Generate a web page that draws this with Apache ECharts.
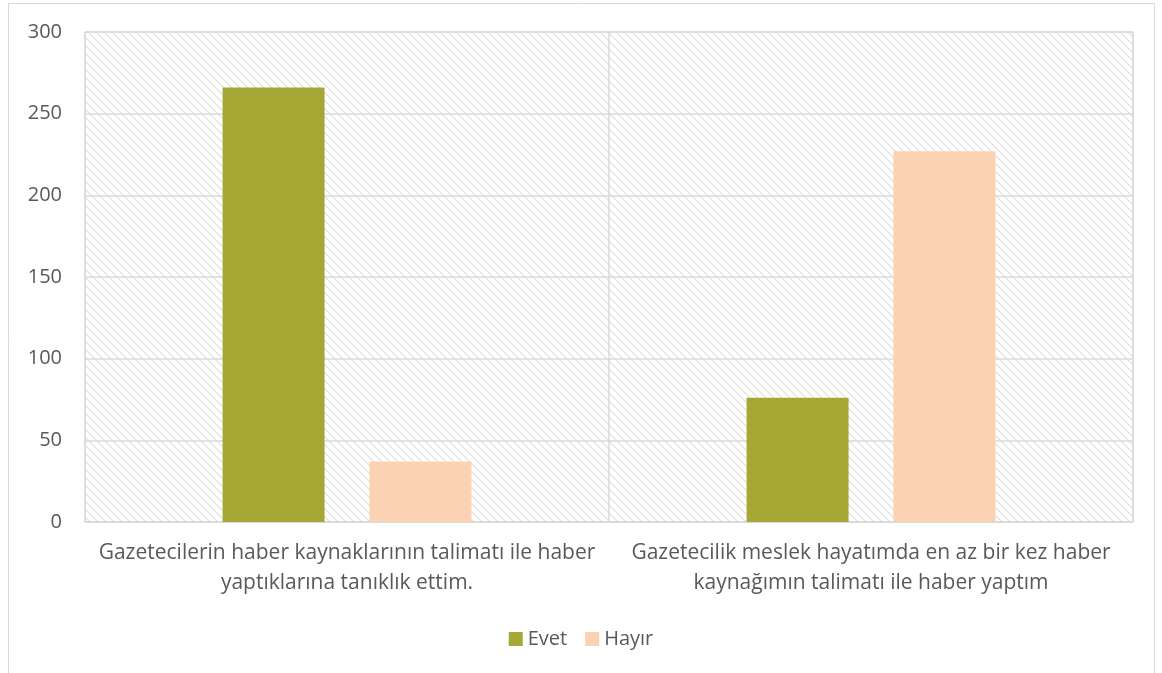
<!DOCTYPE html>
<html>
<head>
    <meta charset="utf-8">
    <title>ECharts</title>
    <script src="https://cdn.jsdelivr.net/npm/echarts@6/dist/echarts.min.js"></script>
    <style>
        html, body { margin: 0; padding: 0; background: #fff; }
    </style>
</head>
<body>
<div id="main" style="width: 1162px;height:673px;"></div>
<script type="text/javascript">
    // veriler
    var categories = [
        'Gazetecilerin haber kaynaklarının talimatı ile haber\nyaptıklarına tanıklık ettim.',
        'Gazetecilik meslek hayatımda en az bir kez haber\nkaynağımın talimatı ile haber yaptım'
    ];
    var evet = [266, 76];
    var hayir = [37, 227];
    var yTicks = [0, 50, 100, 150, 200, 250, 300];

    // çizgili arka plan deseni
    var hatch = document.createElement('canvas');
    hatch.width = 8;
    hatch.height = 8;
    var ctx = hatch.getContext('2d');
    ctx.fillStyle = '#ffffff';
    ctx.fillRect(0, 0, 8, 8);
    ctx.strokeStyle = '#dedede';
    ctx.lineWidth = 1.1;
    ctx.beginPath();
    ctx.moveTo(-1, -1); ctx.lineTo(9, 9);
    ctx.moveTo(-1, 7); ctx.lineTo(1, 9);
    ctx.moveTo(7, -1); ctx.lineTo(9, 1);
    ctx.stroke();

    var font = '"Open Sans", "Noto Sans", sans-serif';
    var myChart = echarts.init(document.getElementById('main'));

    myChart.setOption({
        animation: false,
        textStyle: { fontFamily: font },
        graphic: [{
            type: 'rect',
            shape: { x: 8.5, y: 3.5, width: 1146, height: 680 },
            style: { fill: null, stroke: '#d9d9d9', lineWidth: 1 },
            silent: true,
            z: -10
        }],
        grid: {
            left: 85, right: 29, top: 32, bottom: 151,
            show: true,
            backgroundColor: { image: hatch, repeat: 'repeat' },
            borderColor: '#d9d9d9',
            borderWidth: 1
        },
        legend: {
            top: 624,
            left: 'center',
            itemWidth: 14,
            itemHeight: 14,
            itemGap: 18,
            icon: 'rect',
            textStyle: { fontSize: 20, color: '#595959', fontFamily: font },
            data: ['Evet', 'Hayır']
        },
        xAxis: {
            type: 'category',
            data: categories,
            axisLine: { lineStyle: { color: '#d9d9d9', width: 1.5 } },
            axisTick: { show: false },
            splitLine: { show: true, interval: 0, lineStyle: { color: '#d9d9d9', width: 1.5 } },
            axisLabel: {
                interval: 0,
                color: '#595959',
                fontSize: 21,
                lineHeight: 30,
                margin: 16,
                fontFamily: font
            }
        },
        yAxis: {
            type: 'value',
            min: yTicks[0],
            max: yTicks[yTicks.length - 1],
            interval: 50,
            axisLine: { show: false },
            axisTick: { show: false },
            splitLine: { lineStyle: { color: '#d9d9d9', width: 1.5 } },
            axisLabel: { color: '#595959', fontSize: 20, margin: 23, fontFamily: font }
        },
        series: [
            {
                name: 'Evet',
                type: 'bar',
                data: evet,
                barWidth: 102,
                barGap: '44%',
                itemStyle: { color: '#a5a835' }
            },
            {
                name: 'Hayır',
                type: 'bar',
                data: hayir,
                barWidth: 102,
                itemStyle: { color: '#fbd2b3' }
            }
        ]
    });
</script>
</body>
</html>
